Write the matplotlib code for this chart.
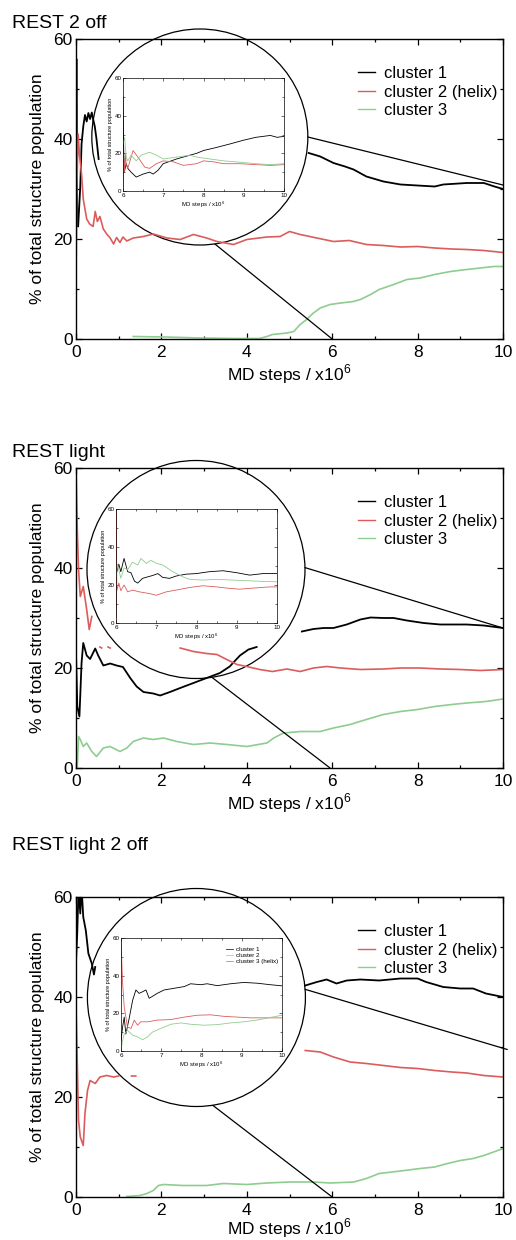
import numpy as np
import matplotlib
matplotlib.use("Agg")
import matplotlib.pyplot as plt
from matplotlib.patches import Circle, ConnectionPatch
from matplotlib.transforms import ScaledTranslation
from matplotlib.ticker import MultipleLocator

plt.rcParams['font.family'] = ['Liberation Sans', 'DejaVu Sans']
plt.rcParams['mathtext.fontset'] = 'custom'
plt.rcParams['mathtext.rm'] = 'Liberation Sans'

nan = np.nan

# ---------------- data ----------------
titles = ["REST 2 off", "REST light", "REST light 2 off"]
main_labels = ["cluster 1", "cluster 2 (helix)", "cluster 3"]
inset3_labels = ["cluster 1", "cluster 2", "cluster 3 (helix)"]
xlabel_text = "MD steps / x10$^{6}$"
ylabel_text = "% of total structure population"

# Panel 1 (REST 2 off) main
p1_black_x = [0, 0.01, 0.02, 0.03, 0.05, 0.1, 0.13, 0.17, 0.21, 0.25, 0.29, 0.33, 0.37, 0.4, 0.44, 0.48, 0.53, 0.54,
              5.45, 5.72, 6.03, 6.3, 6.5, 6.8, 7.2, 7.6, 8.0, 8.4, 8.6, 9.15, 9.55, 9.8, 10]
p1_black_y = [30, 56, 35, 23, 22.5, 30.5, 39, 42.5, 44.8, 43.5, 45.2, 44.0, 45.3, 44, 42.5, 40, 36, nan,
              37.2, 36.5, 35.2, 34.5, 33.9, 32.5, 31.5, 30.9, 30.7, 30.5, 30.9, 31.2, 31.2, 30.5, 30]
p1_red_x = [0, 0.02, 0.05, 0.08, 0.13, 0.17, 0.25, 0.32, 0.4, 0.45, 0.5, 0.56, 0.64, 0.72, 0.8, 0.88, 0.95, 1.03, 1.1,
            1.19, 1.34, 1.58, 1.81, 2.13, 2.44, 2.75, 3.06, 3.3, 3.69, 4.0, 4.47, 4.78, 5.0, 5.25, 5.64, 6.03,
            6.4, 6.8, 7.2, 7.6, 8.0, 8.4, 8.8, 9.15, 9.55, 10]
p1_red_y = [12, 30, 41, 37, 33, 28, 24, 23, 22.5, 25.5, 23.5, 24.5, 22, 21, 20.2, 19, 20.3, 19.3, 20.4,
            19.6, 20.2, 20.5, 21, 20.2, 19.9, 20.9, 20.2, 19.5, 18.9, 19.9, 20.4, 20.5, 21.5, 20.9, 20.2, 19.5,
            19.7, 18.9, 18.7, 18.4, 18.5, 18.2, 18.0, 17.9, 17.7, 17.3]
p1_green_x = [1.34, 2.1, 2.9, 3.7, 4.3, 4.47, 4.6, 4.94, 5.1, 5.25, 5.4, 5.56, 5.72, 5.95, 6.2, 6.5, 6.66, 6.9,
              7.1, 7.44, 7.75, 8.06, 8.4, 8.77, 9.15, 9.47, 9.78, 10]
p1_green_y = [0.5, 0.4, 0.2, 0.1, 0.1, 0.5, 0.9, 1.2, 1.5, 2.9, 3.9, 5.2, 6.2, 6.9, 7.2, 7.5, 7.9, 8.9,
              9.9, 10.9, 11.9, 12.2, 12.9, 13.5, 13.9, 14.2, 14.5, 14.5]

# Panel 1 inset (6 - 10 x10^6)
i1_black_x = [6.0, 6.01, 6.03, 6.08, 6.12, 6.2, 6.33, 6.5, 6.66, 6.75, 6.87, 7.0, 7.33, 7.66, 7.83, 8.0, 8.3,
              8.66, 9.0, 9.3, 9.66, 9.83, 10]
i1_black_y = [50, 30, 10, 14.5, 12, 10, 7.4, 9, 10, 9, 11, 14.5, 17, 19, 20, 21.5, 23, 25, 27, 28.5, 29.5, 28.5, 29]
i1_red_x = [6.0, 6.02, 6.04, 6.06, 6.08, 6.12, 6.25, 6.37, 6.54, 6.66, 6.83, 7.0, 7.25, 7.5, 7.83, 8.0, 8.25,
            8.5, 8.9, 9.3, 9.66, 10]
i1_red_y = [0, 18, 10, 20, 14, 12, 21.5, 18, 12.7, 12, 14.5, 16, 15.5, 13.6, 14.5, 16, 15.5, 14.5, 14.5, 14, 13.6, 14]
i1_green_x = [6.0, 6.04, 6.08, 6.12, 6.2, 6.33, 6.45, 6.66, 6.83, 7.0, 7.33, 7.66, 7.83, 8.16, 8.5, 8.9, 9.3,
              9.66, 10]
i1_green_y = [25, 28.5, 18, 16, 19, 16, 19, 20.6, 19, 17, 18, 19, 18, 17, 16, 15.3, 14.5, 14, 14.5]

# Panel 2 (REST light) main
p2_black_x = [0, 0.03, 0.08, 0.1, 0.13, 0.17, 0.25, 0.33, 0.45, 0.52, 0.64, 0.8, 0.95, 1.1, 1.27, 1.42, 1.58,
              1.81, 1.97, 2.2, 2.44, 2.75, 3.06, 3.37, 3.6, 3.84, 4.04, 4.23, 4.24,
              5.29, 5.56, 5.8, 6.03, 6.34, 6.66, 6.9, 7.2, 7.44, 7.75, 8.14, 8.53, 9.15, 9.55, 10]
p2_black_y = [23, 12.3, 10.3, 14.5, 21, 25, 22.5, 21.8, 23.9, 22.5, 20.5, 20.9, 20.5, 20.2, 18, 16.3, 15.2,
              14.9, 14.5, 15.2, 16, 17, 18, 19, 20.3, 22.5, 23.7, 24.2, nan,
              27.3, 27.8, 28, 28, 28.7, 29.7, 30.1, 30, 30, 29.5, 29, 28.7, 28.7, 28.5, 28]
p2_red_x = [0, 0.03, 0.06, 0.1, 0.17, 0.25, 0.31, 0.37, 0.38, 0.56, 0.6, 0.61, 0.75, 0.8, 0.81,
            2.44, 2.75, 3.06, 3.3, 3.53, 3.77, 4.0, 4.3, 4.6, 4.94, 5.25, 5.56, 5.87, 6.2, 6.66, 7.2, 7.6,
            8.06, 8.53, 9.0, 9.47, 10]
p2_red_y = [60, 47.7, 39.7, 34.3, 36.3, 31.7, 27.7, 30.3, nan, 24.2, 24, nan, 24.2, 24, nan,
            24, 23.3, 22.9, 22.7, 21.7, 20.7, 20.3, 19.7, 19.3, 19.8, 19.3, 20, 20.3, 20, 19.7, 19.8, 20,
            20, 19.8, 19.7, 19.5, 19.7]
p2_green_x = [0.03, 0.06, 0.1, 0.17, 0.25, 0.37, 0.48, 0.64, 0.8, 1.03, 1.19, 1.34, 1.58, 1.81, 2.05, 2.36,
              2.75, 3.14, 3.53, 4.0, 4.47, 4.63, 4.86, 5.25, 5.72, 6.03, 6.42, 6.8, 7.2, 7.6, 8.0, 8.4, 8.8,
              9.15, 9.6, 10]
p2_green_y = [0, 6.3, 5.7, 4.3, 5, 3.3, 2.3, 4, 4.3, 3.3, 4, 5.3, 6, 5.7, 6, 5.3,
              4.7, 5, 4.7, 4.3, 5, 6, 7, 7.3, 7.3, 8, 8.7, 9.7, 10.7, 11.3, 11.7, 12.3, 12.7,
              13, 13.3, 13.8]

# Panel 2 inset
i2_black_x = [6.0, 6.01, 6.07, 6.12, 6.2, 6.29, 6.37, 6.46, 6.54, 6.66, 6.79, 6.91, 7.04, 7.16, 7.33, 7.49,
              7.74, 7.99, 8.32, 8.66, 8.99, 9.32, 9.65, 10]
i2_black_y = [3, 26, 31, 27, 34, 27, 26.5, 22, 21, 23.5, 24.3, 25, 26, 24, 23.5, 24.7,
              25.7, 26, 27, 27.5, 26.5, 25.2, 26, 26]
i2_red_x = [6.0, 6.01, 6.02, 6.07, 6.12, 6.2, 6.29, 6.41, 6.58, 6.83, 7.0, 7.25, 7.49, 7.83, 8.16, 8.5, 8.83,
            9.07, 9.49, 9.82, 10]
i2_red_y = [0, 60, 17, 21, 17, 20, 16.4, 17.3, 16.4, 15.5, 14.6, 16.4, 17.3, 18.7, 19.6, 19, 18.2,
            17.8, 18.5, 19, 19]
i2_green_x = [6.0, 6.04, 6.12, 6.2, 6.29, 6.41, 6.54, 6.62, 6.75, 6.87, 7.0, 7.16, 7.41, 7.66, 7.83, 8.16,
              8.5, 8.9, 9.32, 9.65, 10]
i2_green_y = [24, 31, 23.5, 29, 28, 32, 30.5, 34, 31.4, 33, 31.4, 30.5, 27, 24.3, 23, 22.6,
              23, 22.6, 22.2, 21.9, 21.7]

# Panel 3 (REST light 2 off) main
p3_black_x = [0, 0.03, 0.06, 0.1, 0.13, 0.17, 0.23, 0.29, 0.37, 0.42, 0.45, 0.46,
              5.37, 5.64, 5.87, 6.1, 6.34, 6.66, 7.1, 7.6, 8.0, 8.2, 8.6, 9.0, 9.3, 9.6, 10]
p3_black_y = [47, 53, 62, 56.7, 62, 56, 53.3, 48.7, 46.7, 44.5, 46, nan,
              42.3, 43, 43.5, 42.7, 43.3, 43.5, 43.3, 43.7, 43.7, 43, 42, 41.7, 41.7, 40.7, 40]
p3_red_x = [0, 0.03, 0.06, 0.1, 0.17, 0.21, 0.27, 0.33, 0.45, 0.56, 0.72, 0.88, 1.0, 1.01, 1.3, 1.4, 1.41,
            5.37, 5.72, 6.03, 6.42, 6.8, 7.2, 7.6, 8.0, 8.4, 8.8, 9.15, 9.55, 10]
p3_red_y = [38, 26.7, 15.3, 12, 10.3, 16.7, 21.3, 23.3, 22.7, 24, 24.3, 24, 24.2, nan, 24.2, 24.2, nan,
            29.3, 29, 28, 27, 26.7, 26.3, 25.9, 25.7, 25.3, 25, 24.8, 24.3, 24]
p3_green_x = [1.19, 1.5, 1.66, 1.81, 1.93, 2.05, 2.5, 3.06, 3.45, 4.0, 4.47, 5.0, 5.56, 5.95, 6.5, 6.8, 7.1,
              7.6, 8.06, 8.4, 8.7, 9.0, 9.3, 9.55, 9.78, 10]
p3_green_y = [0.1, 0.3, 0.7, 1.3, 2.3, 2.5, 2.3, 2.3, 2.7, 2.5, 2.8, 3, 3, 2.8, 3, 3.7, 4.7,
              5.2, 5.7, 6, 6.7, 7.3, 7.7, 8.3, 9, 9.7]

# Panel 3 inset
i3_black_x = [6.0, 6.04, 6.08, 6.12, 6.2, 6.29, 6.37, 6.45, 6.54, 6.62, 6.7, 6.78, 6.9, 7.07, 7.32, 7.57, 7.73,
              7.98, 8.14, 8.39, 8.72, 9.05, 9.38, 9.71, 10]
i3_black_y = [5.5, 12.8, 18, 9, 17, 27, 32.4, 30.6, 31.5, 32.4, 28, 29, 30.6, 32.4, 33.3, 34.2, 35.7,
              35.2, 35.7, 34.7, 35.7, 36.4, 36, 35.2, 34.6]
i3_red_x = [6.0, 6.04, 6.08, 6.16, 6.25, 6.33, 6.41, 6.49, 6.66, 6.9, 7.24, 7.57, 7.9, 8.23, 8.56, 8.89, 9.22,
            9.55, 10]
i3_red_y = [59, 36, 23.5, 12.8, 12, 16.4, 13.7, 15.5, 15.5, 16.4, 16.7, 18, 19, 19.2, 18.4, 18, 17.6,
            17.6, 17.6]
i3_green_x = [6.0, 6.04, 6.08, 6.16, 6.29, 6.41, 6.54, 6.66, 6.78, 6.99, 7.24, 7.49, 7.73, 8.06, 8.39, 8.72,
              9.05, 9.38, 9.71, 10]
i3_green_y = [0.3, 5.5, 9, 11, 8.4, 7.5, 6, 7.5, 10, 12, 14.2, 14.9, 14.2, 13.7, 14, 14.9,
              15.5, 16.4, 17.8, 19]

# ---------------- style / layout ----------------
W, H = 516, 1240
COL_BLACK, COL_RED, COL_GREEN = "#000000", "#dc5c5c", "#8fcc8f"

fig = plt.figure(figsize=(W / 100, H / 100), dpi=100)

def fr(l, t, r, b):
    return [l / W, 1 - b / H, (r - l) / W, (b - t) / H]

main_rects = [(76, 39, 503, 339), (76, 468, 503, 768), (76, 897, 503, 1197)]
inset_rects = [(123, 78, 284, 191), (116, 509, 277, 623), (121, 938, 282, 1051)]
title_base = [28, 457, 850]
xlabel_y = [-0.077, -0.077, -0.066]
# circle centre (data coords of main axes), radius in px
circles = [((2.90, 40.4), 108), ((2.81, 39.7), 109), ((2.82, 39.9), 109)]
# zoom lines: (angle on circle in degrees, target in data coords)
zoom_lines = [
    [(0.0, (10.0, 30.8)), (-82.0, (6.0, 0.0))],
    [(1.0, (10.0, 28.0)), (-81.6, (5.95, 0.0))],
    [(4.3, (10.1, 29.5)), (-81.4, (6.0, 0.0))],
]

main_data = [
    [(p1_black_x, p1_black_y), (p1_red_x, p1_red_y), (p1_green_x, p1_green_y)],
    [(p2_black_x, p2_black_y), (p2_red_x, p2_red_y), (p2_green_x, p2_green_y)],
    [(p3_black_x, p3_black_y), (p3_red_x, p3_red_y), (p3_green_x, p3_green_y)],
]
inset_data = [
    [(i1_black_x, i1_black_y), (i1_red_x, i1_red_y), (i1_green_x, i1_green_y)],
    [(i2_black_x, i2_black_y), (i2_red_x, i2_red_y), (i2_green_x, i2_green_y)],
    [(i3_black_x, i3_black_y), (i3_red_x, i3_red_y), (i3_green_x, i3_green_y)],
]
colors = [COL_BLACK, COL_RED, COL_GREEN]


def style_axes(ax, fs, major_len, minor_len, width, spine_lw, pad_x, pad_y):
    for s in ax.spines.values():
        s.set_linewidth(spine_lw)
    ax.tick_params(which='both', direction='in', top=True, right=True, width=width)
    ax.tick_params(which='major', length=major_len, labelsize=fs)
    ax.tick_params(which='minor', length=minor_len)
    ax.tick_params(axis='x', pad=pad_x)
    ax.tick_params(axis='y', pad=pad_y)


for k in range(3):
    ax = fig.add_axes(fr(*main_rects[k]))
    ax.set_xlim(0, 10)
    ax.set_ylim(0, 60)
    ax.xaxis.set_major_locator(MultipleLocator(2))
    ax.xaxis.set_minor_locator(MultipleLocator(1))
    ax.yaxis.set_major_locator(MultipleLocator(20))
    ax.yaxis.set_minor_locator(MultipleLocator(10))
    style_axes(ax, 12.5, 4.5, 2.3, 0.9, 1.0, 4.0, 2.5)
    handles = []
    for (xs, ys), c in zip(main_data[k], colors):
        lw = 1.3 if c == COL_BLACK else 1.2
        h, = ax.plot(xs, ys, color=c, lw=lw, zorder=2)
        handles.append(h)
    ax.set_xlabel(xlabel_text, fontsize=12.5)
    ax.set_ylabel(ylabel_text, fontsize=12.5)
    ax.xaxis.set_label_coords(0.5, xlabel_y[k])
    ax.yaxis.set_label_coords(-0.072, 0.5)
    leg = ax.legend(handles, main_labels, loc='upper left', bbox_to_anchor=(0.660, 0.909),
                    frameon=False, fontsize=12, handlelength=1.05, handletextpad=0.5,
                    labelspacing=0.2, borderpad=0, borderaxespad=0)
    for lh in leg.get_lines():
        lh.set_linewidth(1.0)

    # magnifier circle
    (cx, cy), r = circles[k]
    ctrans = fig.dpi_scale_trans + ScaledTranslation(cx, cy, ax.transData)
    circ = Circle((0, 0), radius=r / 100, transform=ctrans, facecolor='white',
                  edgecolor='black', lw=0.9, zorder=1.1, clip_on=False)
    ax.add_patch(circ)
    for ang, tgt in zoom_lines[k]:
        a = np.deg2rad(ang)
        cp = ConnectionPatch(xyA=(r / 100 * np.cos(a), r / 100 * np.sin(a)), coordsA=ctrans,
                             xyB=tgt, coordsB=ax.transData, color='black', lw=0.9, zorder=3)
        cp.set_clip_on(False)
        ax.add_artist(cp)

    fig.text(12 / W, 1 - title_base[k] / H, titles[k], fontsize=14, va='baseline', ha='left')

    # inset
    axi = fig.add_axes(fr(*inset_rects[k]))
    axi.set_xlim(6, 10)
    axi.set_ylim(0, 60)
    axi.xaxis.set_major_locator(MultipleLocator(1))
    axi.xaxis.set_minor_locator(MultipleLocator(0.5))
    axi.yaxis.set_major_locator(MultipleLocator(20))
    axi.yaxis.set_minor_locator(MultipleLocator(10))
    style_axes(axi, 4.5, 2.2, 1.1, 0.4, 0.5, 1.5, 1.0)
    ih = []
    for (xs, ys), c in zip(inset_data[k], colors):
        h, = axi.plot(xs, ys, color=c, lw=0.6)
        ih.append(h)
    axi.set_xlabel(xlabel_text, fontsize=4.3, labelpad=1.5)
    axi.set_ylabel(ylabel_text, fontsize=4.0, labelpad=1.5)
    if k == 2:
        il = axi.legend([ih[0], ih[2], ih[1]], inset3_labels, loc='upper left',
                        bbox_to_anchor=(0.655, 0.925), frameon=False, fontsize=4.5,
                        handlelength=1.1, handletextpad=0.5, labelspacing=0.15,
                        borderpad=0, borderaxespad=0)
        for lh in il.get_lines():
            lh.set_linewidth(0.5)

fig.savefig("out.png", dpi=100)
